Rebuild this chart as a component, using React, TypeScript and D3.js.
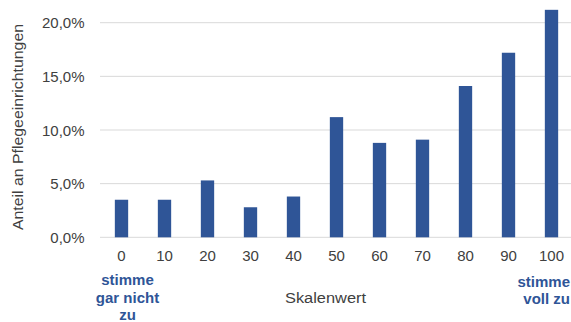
import React from "react";
import * as d3 from "d3";

// Scale values 0..100 and the share of care facilities (%) at each value
const categories: string[] = ["0", "10", "20", "30", "40", "50", "60", "70", "80", "90", "100"];
const shares: number[] = [3.5, 3.5, 5.3, 2.8, 3.8, 11.2, 8.8, 9.1, 14.1, 17.2, 21.2];
const yTicks: number[] = [0, 5, 10, 15, 20];

const W = 571;
const H = 322;
const FONT = "'Liberation Sans', Arial, sans-serif";
const BAR = "#2F5597";
const TEXT = "#404040";

export default function App() {
  const x = d3
    .scaleBand<string>()
    .domain(categories)
    .range([100, 573])
    .paddingInner(0.69)
    .paddingOuter(0.345);
  const y = d3.scaleLinear().domain([0, 20]).range([237.3, 22.7]);
  const fmt = (v: number) => d3.format(".1f")(v).replace(".", ",") + "%";

  return (
    <svg
      width={W}
      height={H}
      style={{ position: "absolute", left: 0, top: 0, background: "#fff" }}
      fontFamily={FONT}
    >
      {/* horizontal gridlines and y tick labels */}
      {yTicks.map((t) => (
        <g key={t}>
          <line x1={100} x2={571} y1={y(t)} y2={y(t)} stroke="#d9d9d9" strokeWidth={1} />
          <text x={84.5} y={y(t) + 5.6} textAnchor="end" fontSize={15} fill={TEXT}>
            {fmt(t)}
          </text>
        </g>
      ))}

      {/* bars */}
      {categories.map((c, i) => (
        <rect
          key={c}
          x={x(c)}
          y={y(shares[i])}
          width={x.bandwidth()}
          height={y(0) - y(shares[i])}
          fill={BAR}
        />
      ))}

      {/* x tick labels */}
      {categories.map((c) => (
        <text
          key={c}
          x={(x(c) ?? 0) + x.bandwidth() / 2}
          y={261}
          textAnchor="middle"
          fontSize={15}
          fill={TEXT}
        >
          {c}
        </text>
      ))}

      {/* scale end annotations */}
      <g fontSize={15} fontWeight="bold" fill={BAR} textAnchor="middle">
        <text x={127.5} y={285}>stimme</text>
        <text x={127.5} y={302.5}>gar nicht</text>
        <text x={127.5} y={319.5}>zu</text>
      </g>
      <g fontSize={15} fontWeight="bold" fill={BAR} textAnchor="end">
        <text x={570} y={286.5}>stimme</text>
        <text x={570} y={303.5}>voll zu</text>
      </g>

      {/* axis titles */}
      <text
        x={285}
        y={303.3}
        fontSize={15.5}
        fill={TEXT}
        textLength={81}
        lengthAdjust="spacingAndGlyphs"
      >
        Skalenwert
      </text>
      <text
        transform={`translate(23, 230) rotate(-90)`}
        fontSize={15.5}
        fill={TEXT}
        textLength={206}
        lengthAdjust="spacingAndGlyphs"
      >
        Anteil an Pflegeeinrichtungen
      </text>
    </svg>
  );
}
